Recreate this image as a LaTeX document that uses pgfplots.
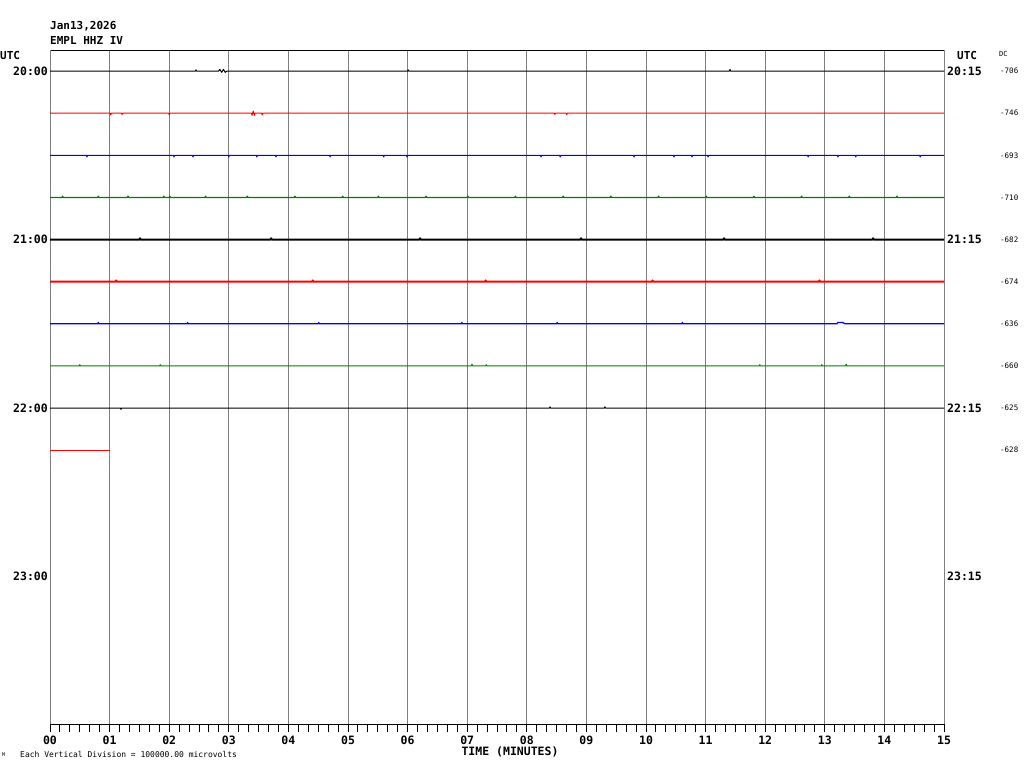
\documentclass[border=0pt]{standalone}
\usepackage{pgfplots}
\pgfplotsset{compat=1.18}
\usepackage{fontspec}
\setmainfont{DejaVu Sans Mono}
\definecolor{gridgray}{RGB}{128,128,128}
\definecolor{tgreen}{RGB}{0,128,0}
\definecolor{tblue}{RGB}{0,0,255}
\definecolor{tred}{RGB}{255,0,0}
\begin{document}
\begin{tikzpicture}[x=1pt,y=1pt]
\useasboundingbox (0,0) rectangle (1024,768);
\begin{axis}[
 at={(50pt,44pt)}, anchor=south west,
 scale only axis, width=894pt, height=674pt,
 xmin=0, xmax=15, ymin=-0.5, ymax=15.5, y dir=reverse,
 xtick={0,...,15},
 xticklabels={00,01,02,03,04,05,06,07,08,09,10,11,12,13,14,15},
 minor x tick num=5,
 xtick pos=bottom, tick align=outside,
 major tick length=8pt, minor tick length=8pt,
 ytick=\empty,
 xmajorgrids, grid style={gridgray, line width=1pt},
 separate axis lines,
 x axis line style={black, line width=1pt},
 y axis line style={gridgray, line width=1pt},
 tick style={black, line width=1pt},
 xticklabel style={font=\fontsize{11.5}{11.5}\selectfont\bfseries, inner sep=1pt, yshift=-3pt},
 clip=false,
 every axis plot/.append style={line width=1pt, line join=round},
]
% row 0 (20:00) black
\addplot[black] coordinates {(0,0) (2.44,0) (2.45,-0.03) (2.46,0) (2.83,0) (2.85,-0.04) (2.88,0.03) (2.91,-0.04) (2.94,0.03) (2.97,0) (6.0,0) (6.01,-0.03) (6.02,0) (11.40,0) (11.41,-0.04) (11.42,0) (15,0)};
% row 1 red
\addplot[tred] coordinates {(0,1) (1.01,1) (1.02,1.04) (1.03,1) (1.20,1) (1.21,1.03) (1.22,1) (1.99,1) (2.0,1.04) (2.01,1) (3.38,1) (3.39,1.05) (3.41,0.95) (3.43,1.05) (3.44,1) (3.55,1) (3.56,1.04) (3.57,1) (8.46,1) (8.47,1.03) (8.48,1) (8.66,1) (8.67,1.03) (8.68,1) (15,1)};
% row 2 blue
\addplot[tblue] coordinates {(0,2) (0.61,2) (0.62,2.04) (0.63,2) (2.07,2) (2.08,2.04) (2.09,2) (2.39,2) (2.40,2.04) (2.41,2) (2.99,2) (3.0,2.04) (3.01,2) (3.46,2) (3.47,2.04) (3.48,2) (3.78,2) (3.79,2.04) (3.80,2) (4.69,2) (4.70,2.04) (4.71,2) (5.59,2) (5.60,2.04) (5.61,2) (5.98,2) (5.99,2.04) (6.0,2) (8.23,2) (8.24,2.04) (8.25,2) (8.55,2) (8.56,2.04) (8.57,2) (9.79,2) (9.80,2.04) (9.81,2) (10.46,2) (10.47,2.04) (10.48,2) (10.76,2) (10.77,2.04) (10.78,2) (11.03,2) (11.04,2.04) (11.05,2) (12.71,2) (12.72,2.04) (12.73,2) (13.21,2) (13.22,2.04) (13.23,2) (13.51,2) (13.52,2.04) (13.53,2) (14.59,2) (14.60,2.04) (14.61,2) (15,2)};
% row 3 green
\addplot[tgreen, line width=1.3pt] coordinates {(0,3) (0.2,3) (0.21,2.97) (0.22,3) (0.8,3) (0.81,2.97) (0.82,3) (1.3,3) (1.31,2.97) (1.32,3) (1.9,3) (1.91,2.97) (1.92,3) (2.0,3) (2.01,2.97) (2.02,3) (2.6,3) (2.61,2.97) (2.62,3) (3.3,3) (3.31,2.97) (3.32,3) (4.1,3) (4.11,2.97) (4.12,3) (4.9,3) (4.91,2.97) (4.92,3) (5.5,3) (5.51,2.97) (5.52,3) (6.3,3) (6.31,2.97) (6.32,3) (7.0,3) (7.01,2.97) (7.02,3) (7.8,3) (7.81,2.97) (7.82,3) (8.6,3) (8.61,2.97) (8.62,3) (9.4,3) (9.41,2.97) (9.42,3) (10.2,3) (10.21,2.97) (10.22,3) (11.0,3) (11.01,2.97) (11.02,3) (11.8,3) (11.81,2.97) (11.82,3) (12.6,3) (12.61,2.97) (12.62,3) (13.4,3) (13.41,2.97) (13.42,3) (14.2,3) (14.21,2.97) (14.22,3) (15,3)};
% row 4 (21:00) black
\addplot[black, line width=2pt] coordinates {(0,4) (1.5,4) (1.51,3.97) (1.52,4) (3.7,4) (3.71,3.97) (3.72,4) (6.2,4) (6.21,3.97) (6.22,4) (8.9,4) (8.91,3.97) (8.92,4) (11.3,4) (11.31,3.97) (11.32,4) (13.8,4) (13.81,3.97) (13.82,4) (15,4)};
% row 5 red
\addplot[tred, line width=2pt] coordinates {(0,5) (1.1,5) (1.11,4.97) (1.12,5) (4.4,5) (4.41,4.97) (4.42,5) (7.3,5) (7.31,4.97) (7.32,5) (10.1,5) (10.11,4.97) (10.12,5) (12.9,5) (12.91,4.97) (12.92,5) (15,5)};
% row 6 blue
\addplot[tblue, line width=1.3pt] coordinates {(0,6) (0.8,6) (0.81,5.97) (0.82,6) (2.3,6) (2.31,5.97) (2.32,6) (4.5,6) (4.51,5.97) (4.52,6) (6.9,6) (6.91,5.97) (6.92,6) (8.5,6) (8.51,5.97) (8.52,6) (10.6,6) (10.61,5.97) (10.62,6) (13.2,6) (13.22,5.97) (13.26,5.97) (13.30,5.97) (13.34,6) (15,6)};
% row 7 green
\addplot[tgreen] coordinates {(0,7) (0.49,7) (0.50,6.97) (0.51,7) (1.84,7) (1.85,6.97) (1.86,7) (7.07,7) (7.08,6.96) (7.09,7) (7.31,7) (7.32,6.97) (7.33,7) (11.90,7) (11.91,6.97) (11.92,7) (12.94,7) (12.95,6.97) (12.96,7) (13.35,7) (13.36,6.96) (13.37,7) (15,7)};
% row 8 (22:00) black
\addplot[black] coordinates {(0,8) (1.18,8) (1.19,8.03) (1.20,8) (8.38,8) (8.39,7.97) (8.40,8) (9.30,8) (9.31,7.97) (9.32,8) (15,8)};
% row 9 red
\addplot[tred] coordinates {(0,9) (1,9)};
% left and right time labels
\begin{scope}[font=\fontsize{11.5}{11.5}\selectfont\bfseries]
\node[anchor=east, inner sep=0pt, xshift=-2pt] at (axis cs:0,0) {20:00};
\node[anchor=east, inner sep=0pt, xshift=-2pt] at (axis cs:0,4) {21:00};
\node[anchor=east, inner sep=0pt, xshift=-2pt] at (axis cs:0,8) {22:00};
\node[anchor=east, inner sep=0pt, xshift=-2pt] at (axis cs:0,12) {23:00};
\node[anchor=west, inner sep=0pt, xshift=3pt] at (axis cs:15,0) {20:15};
\node[anchor=west, inner sep=0pt, xshift=3pt] at (axis cs:15,4) {21:15};
\node[anchor=west, inner sep=0pt, xshift=3pt] at (axis cs:15,8) {22:15};
\node[anchor=west, inner sep=0pt, xshift=3pt] at (axis cs:15,12) {23:15};
\end{scope}
\begin{scope}[font=\fontsize{7.5}{7.5}\selectfont]
\node[anchor=west, inner sep=0pt, xshift=56pt] at (axis cs:15,0) {-706};
\node[anchor=west, inner sep=0pt, xshift=56pt] at (axis cs:15,1) {-746};
\node[anchor=west, inner sep=0pt, xshift=56pt] at (axis cs:15,2) {-693};
\node[anchor=west, inner sep=0pt, xshift=56pt] at (axis cs:15,3) {-710};
\node[anchor=west, inner sep=0pt, xshift=56pt] at (axis cs:15,4) {-682};
\node[anchor=west, inner sep=0pt, xshift=56pt] at (axis cs:15,5) {-674};
\node[anchor=west, inner sep=0pt, xshift=56pt] at (axis cs:15,6) {-636};
\node[anchor=west, inner sep=0pt, xshift=56pt] at (axis cs:15,7) {-660};
\node[anchor=west, inner sep=0pt, xshift=56pt] at (axis cs:15,8) {-625};
\node[anchor=west, inner sep=0pt, xshift=56pt] at (axis cs:15,9) {-628};
\end{scope}
\end{axis}
% titles and outer labels
\node[anchor=west, inner sep=0pt, font=\fontsize{11}{11}\selectfont\bfseries] at (50,742) {Jan13,2026};
\node[anchor=west, inner sep=0pt, font=\fontsize{11}{11}\selectfont\bfseries] at (50,727) {EMPL HHZ IV};
\node[anchor=west, inner sep=0pt, font=\fontsize{11}{11}\selectfont\bfseries] at (0,712) {UTC};
\node[anchor=west, inner sep=0pt, font=\fontsize{11}{11}\selectfont\bfseries] at (957,712) {UTC};
\node[anchor=west, inner sep=0pt, font=\fontsize{7}{7}\selectfont] at (999,714) {DC};
\node[anchor=center, inner sep=0pt, font=\fontsize{11.5}{11.5}\selectfont\bfseries] at (510,16) {TIME (MINUTES)};
\node[anchor=west, inner sep=0pt, font=\fontsize{8}{8}\selectfont] at (20,14) {Each Vertical Division = 100000.00 microvolts};
\node[anchor=west, inner sep=0pt, font=\fontsize{5}{5}\selectfont] at (2,13) {M};
\end{tikzpicture}
\end{document}
